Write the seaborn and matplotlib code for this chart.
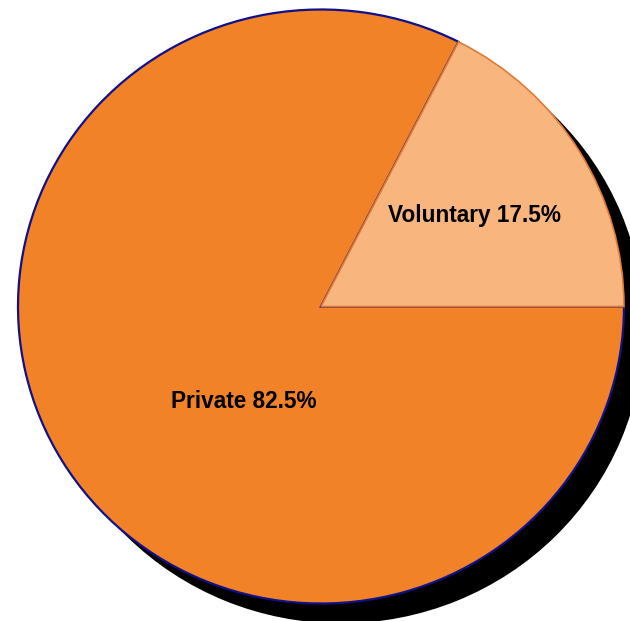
import matplotlib
matplotlib.use("Agg")
import matplotlib.pyplot as plt
import seaborn as sns

categories = ["Voluntary", "Private"]
values = [17.5, 82.5]
slice_colors = ["#F8B57E", "#F18227"]

sns.set_theme(style="white")
plt.rcParams['font.family'] = ['Liberation Sans', 'DejaVu Sans']

fig = plt.figure(figsize=(6.30, 6.21), dpi=100)
ax = fig.add_axes([0, 0, 1, 1])

# shadow
ax.pie([1], colors=["black"], radius=1.0, center=(0.066, -0.067),
       wedgeprops=dict(linewidth=0), frame=True)

wedges, _ = ax.pie(values, colors=slice_colors, startangle=0, counterclock=True,
                   radius=1.0, center=(0, 0), frame=True)
vol, priv = wedges
priv.set_edgecolor("#10108A")
priv.set_linewidth(1.6)
priv.set_zorder(3)
vol.set_edgecolor("#E07B35")
vol.set_linewidth(1.2)
vol.set_zorder(4)

label_pos = [(0.508, 0.2855), (-0.254, -0.341)]
for cat, val, (lx, ly) in zip(categories, values, label_pos):
    ax.text(lx, ly, f"{cat} {val:.1f}%", ha="center", va="baseline",
            fontsize=16.3, fontweight="bold", color="black", zorder=5)

ax.set_aspect("auto")
ax.set_xlim(-321 / 303, (630 - 321) / 303)
ax.set_ylim(-(621 - 306.5) / 297, 306.5 / 297)
ax.axis("off")

fig.savefig("out.png", dpi=100)
